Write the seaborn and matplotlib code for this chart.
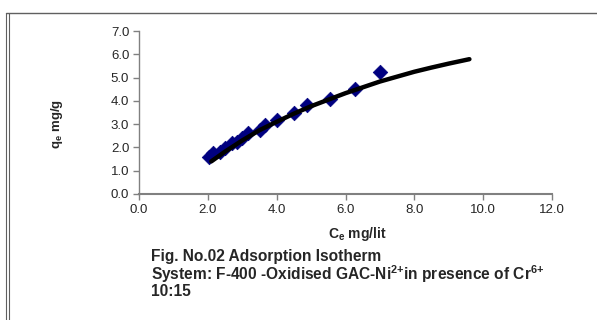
import matplotlib
matplotlib.use("Agg")
import matplotlib.pyplot as plt
import seaborn as sns
import pandas as pd

# experimental points (Ce, qe)
ce_pts = [2.03, 2.16, 2.35, 2.50, 2.69, 2.84, 2.98, 3.18, 3.52, 3.66, 4.00, 4.49, 4.87, 5.55, 6.28, 7.00]
qe_pts = [1.59, 1.75, 1.82, 1.96, 2.17, 2.24, 2.39, 2.60, 2.75, 2.96, 3.18, 3.46, 3.82, 4.10, 4.53, 5.22]

# fitted isotherm curve
ce_fit = [2.1, 2.5, 3.0, 3.5, 4.0, 4.5, 5.0, 5.5, 6.0, 6.5, 7.0, 7.5, 8.0, 8.5, 9.0, 9.6]
qe_fit = [1.40, 1.82, 2.30, 2.74, 3.10, 3.45, 3.77, 4.05, 4.33, 4.58, 4.83, 5.04, 5.25, 5.43, 5.60, 5.79]

xticks = [0, 2, 4, 6, 8, 10, 12]
yticks = [0, 1, 2, 3, 4, 5, 6, 7]

sns.set_style("white")
plt.rcParams['font.family'] = ['Liberation Sans', 'DejaVu Sans']
plt.rcParams['mathtext.fontset'] = 'custom'
plt.rcParams['mathtext.rm'] = 'Liberation Sans:bold'
plt.rcParams['mathtext.it'] = 'Liberation Sans:bold'
plt.rcParams['mathtext.bf'] = 'Liberation Sans:bold'

pts = pd.DataFrame({"ce": ce_pts, "qe": qe_pts})
fit = pd.DataFrame({"ce": ce_fit, "qe": qe_fit})

fig = plt.figure(figsize=(5.97, 3.2), dpi=100)
ax = fig.add_axes([139/597, 1 - 194/320, (552-139)/597, (194-31)/320])

sns.scatterplot(data=pts, x="ce", y="qe", marker="D", s=55, color="#000080",
                edgecolor="#000080", linewidth=0.5, ax=ax, zorder=2)
sns.lineplot(data=fit, x="ce", y="qe", color="black", linewidth=3.2, ax=ax, zorder=3)

ax.set_xlim(0, 12)
ax.set_ylim(0, 7)
ax.set_xticks(xticks)
ax.set_yticks(yticks)
ax.set_xticklabels([f"{v:.1f}" for v in xticks], fontsize=9.5)
ax.set_yticklabels([f"{v:.1f}" for v in yticks], fontsize=9.5)
ax.set_xlabel("")
ax.set_ylabel("")
for s in ["top", "right"]:
    ax.spines[s].set_visible(False)
ax.spines["left"].set_color("#808080")
ax.spines["bottom"].set_color("#808080")
ax.spines["left"].set_linewidth(1.0)
ax.spines["bottom"].set_linewidth(1.5)
ax.tick_params(axis="both", direction="out", length=4, width=1, color="#808080",
               bottom=True, left=True, pad=3)

fig.text(357/597, 1 - 234/320, r"C$_\mathregular{e}$ mg/lit", ha="center", va="center",
         fontsize=10, fontweight="bold")
fig.text(57/597, 1 - 124/320, r"q$_\mathregular{e}$ mg/g", ha="center", va="center",
         rotation=90, fontsize=9.5, fontweight="bold")

fig.text(151/597, 1 - 256/320, "Fig. No.02 Adsorption Isotherm", ha="left", va="center",
         fontsize=11.2, fontweight="bold")
fig.text(151/597, 1 - 274/320,
         r"System: F-400 -Oxidised GAC-Ni$^\mathregular{2{+}}$in presence of Cr$^\mathregular{6{+}}$",
         ha="left", va="center", fontsize=11.2, fontweight="bold")
fig.text(151/597, 1 - 292/320, "10:15", ha="left", va="center",
         fontsize=11.2, fontweight="bold")

# page frame lines
fig.add_artist(plt.Line2D([6/597, 1], [1 - 13/320, 1 - 13/320], color="#606060", lw=1))
fig.add_artist(plt.Line2D([6/597, 6/597], [0, 1 - 13/320], color="#606060", lw=0.8))
fig.add_artist(plt.Line2D([8.5/597, 8.5/597], [0, 1 - 13/320], color="#606060", lw=0.8))

fig.savefig("out.png", dpi=100)
